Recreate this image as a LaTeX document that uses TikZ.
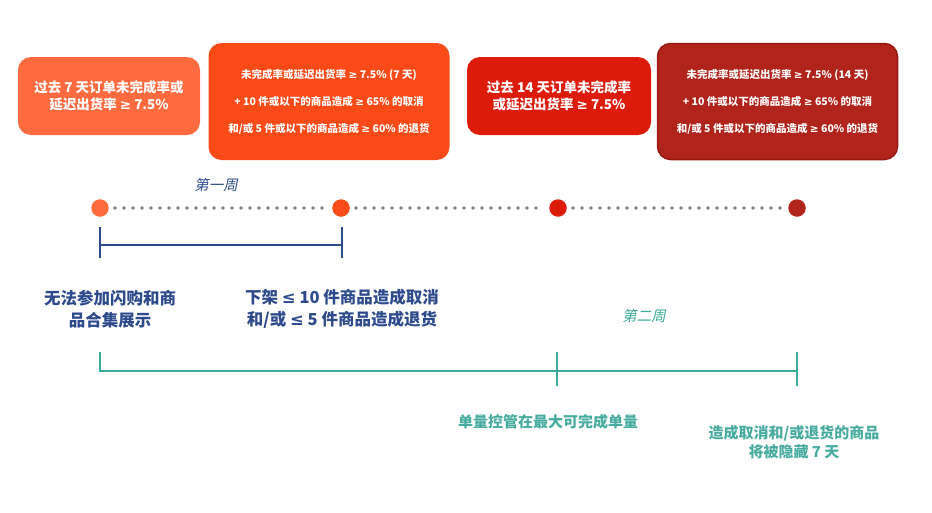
\documentclass[tikz,border=0pt]{standalone}
\usepackage{fontspec}
\setmainfont{Noto Sans CJK SC}
\newfontfamily\cjkit{Noto Sans CJK SC}[FakeSlant=0.2]
\newfontfamily\symf{DejaVu Sans}
\newcommand{\GEs}{{\symf ≥}}
\newcommand{\LEs}{{\symf ≤}}
\definecolor{cA}{HTML}{FF6B3F}
\definecolor{cB}{HTML}{FA4A17}
\definecolor{cC}{HTML}{DD1B0B}
\definecolor{cD}{HTML}{B0241C}
\definecolor{cDb}{HTML}{9A1812}
\definecolor{navy}{HTML}{2D4B8C}
\definecolor{teal}{HTML}{3AAA99}
\definecolor{tealtxt}{HTML}{48AB9F}
\definecolor{dotgray}{HTML}{7E7E7E}
\tikzset{
  box/.style={rounded corners=13pt, draw=none, text=white, font=\bfseries, align=center, inner sep=0pt},
  smalltxt/.style={font=\bfseries\fontsize{10.5}{27}\selectfont},
  bigtxt/.style={font=\bfseries\fontsize{13.5}{16.5}\selectfont},
  dot/.style={circle, minimum size=17.5pt, inner sep=0pt},
  dotline/.style={line width=3.8pt, line cap=round, dash pattern=on 0pt off 9pt, dotgray, shorten <=6pt, shorten >=5pt},
  navyline/.style={navy, line width=2pt},
  tealline/.style={teal, line width=2.2pt},
  navylab/.style={text=navy, font=\bfseries\fontsize{16.5}{22}\selectfont, align=center},
  teallab/.style={text=tealtxt, font=\bfseries\fontsize{15}{19}\selectfont, align=center},
  weeklab/.style={font=\cjkit\fontsize{14.5}{16}\selectfont}
}
\begin{document}
\begin{tikzpicture}[x=1pt,y=-1pt]
\useasboundingbox (0,0) rectangle (932,512);
% boxes
\node[box, fill=cA, minimum width=182pt, minimum height=78pt, bigtxt] (b1) at (109,96)
  {过去 7 天订单未完成率或\\延迟出货率 \GEs{} 7.5\%};
\node[box, fill=cB, minimum width=241pt, minimum height=117pt, smalltxt] (b2) at (329,101.5)
  {未完成率或延迟出货率 \GEs{} 7.5\% (7 天)\\+ 10 件或以下的商品造成 \GEs{} 65\% 的取消\\和/或 5 件或以下的商品造成 \GEs{} 60\% 的退货};
\node[box, fill=cC, minimum width=184pt, minimum height=78pt, bigtxt] (b3) at (559,96)
  {过去 14 天订单未完成率\\或延迟出货率 \GEs{} 7.5\%};
\node[box, fill=cD, draw=cDb, line width=1.5pt, minimum width=240pt, minimum height=116pt, smalltxt] (b4) at (777.5,101.5)
  {未完成率或延迟出货率 \GEs{} 7.5\% (14 天)\\+ 10 件或以下的商品造成 \GEs{} 65\% 的取消\\和/或 5 件或以下的商品造成 \GEs{} 60\% 的退货};
% timeline dots
\node[dot, fill=cA] (d1) at (100,208) {};
\node[dot, fill=cB] (d2) at (341,208) {};
\node[dot, fill=cC] (d3) at (558,208) {};
\node[dot, fill=cD] (d4) at (797,208) {};
\draw[dotline] (d1) -- (d2);
\draw[dotline] (d2) -- (d3);
\draw[dotline] (d3) -- (d4);
% week 1
\node[weeklab, text=navy] (w1) at (216,185) {第一周};
\coordinate (n1t) at (100,227); \coordinate (n1b) at (100,258); \coordinate (n1m) at (100,245);
\coordinate (n2t) at (342,227); \coordinate (n2b) at (342,258); \coordinate (n2m) at (342,245);
\draw[navyline] (n1t) -- (n1b);
\draw[navyline] (n2t) -- (n2b);
\draw[navyline] (n1m) -- (n2m);
\node[navylab] (l1) at (110,309) {无法参加闪购和商\\品合集展示};
\node[navylab] (l2) at (342,309) {下架 \LEs{} 10 件商品造成取消\\和/或 \LEs{} 5 件商品造成退货};
% week 2
\node[weeklab, text=teal] (w2) at (644,316) {第二周};
\coordinate (t1t) at (100,352); \coordinate (t1m) at (100,371);
\coordinate (t2t) at (557,352); \coordinate (t2b) at (557,386); \coordinate (t2m) at (557,371);
\coordinate (t3t) at (797,352); \coordinate (t3b) at (797,386); \coordinate (t3m) at (797,371);
\draw[tealline] (t1t) -- (t1m) -- (t3m);
\draw[tealline] (t2t) -- (t2b);
\draw[tealline] (t3t) -- (t3b);
\node[teallab] (l3) at (548,422) {单量控管在最大可完成单量};
\node[teallab] (l4) at (794,442) {造成取消和/或退货的商品\\将被隐藏 7 天};
\end{tikzpicture}
\end{document}
